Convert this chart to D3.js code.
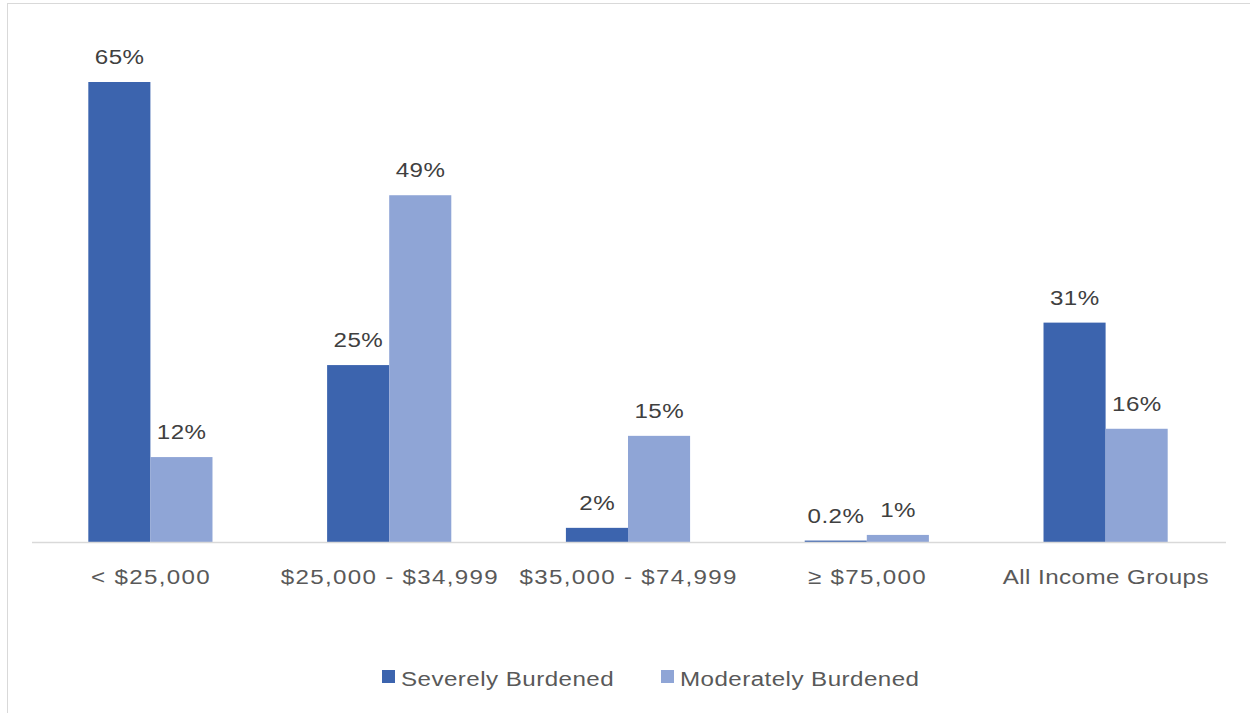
<!DOCTYPE html>
<html>
<head>
<meta charset="utf-8">
<script src="https://cdn.jsdelivr.net/npm/d3@7"></script>
<style>
  html, body { margin: 0; padding: 0; background: #fff; }
  svg { display: block; }
  text { font-family: "Liberation Sans", Arial, sans-serif; }
</style>
</head>
<body>
<svg id="chart" width="1250" height="713"></svg>
<script>
// Housing cost burden by household income
const categories = ["< $25,000", "$25,000 - $34,999", "$35,000 - $74,999", "\u2265 $75,000", "All Income Groups"];
const seriesNames = ["Severely Burdened", "Moderately Burdened"];
const severe = [65, 25, 2, 0.2, 31];
const moderate = [12, 49, 15, 1, 16];
const valueLabels = [
  ["65%", "25%", "2%", "0.2%", "31%"],
  ["12%", "49%", "15%", "1%", "16%"]
];
const colors = ["#3C64AE", "#8FA5D6"];

const rows = categories.map((c, i) => ({
  category: c,
  values: [severe[i], moderate[i]],
  labels: [valueLabels[0][i], valueLabels[1][i]]
}));

const svg = d3.select("#chart");

// chart frame
svg.append("rect")
  .attr("x", 7.5).attr("y", 3.5)
  .attr("width", 1260).attr("height", 720)
  .attr("fill", "#fff")
  .attr("stroke", "#d9d9d9").attr("stroke-width", 1);

const plot = { left: 32, right: 1226, top: 82, bottom: 542 };
const FONT = 21;
const STRETCH = 1.15;   // wide grotesque look

const x0 = d3.scaleBand()
  .domain(categories)
  .range([plot.left - 1, plot.right - 1])
  .paddingInner(0.48)
  .paddingOuter(0.24);

const x1 = d3.scaleBand()
  .domain([0, 1])
  .range([0, x0.bandwidth()]);

const y = d3.scaleLinear()
  .domain([0, 65])
  .range([plot.bottom, plot.top]);

// bars
const groups = svg.append("g").selectAll("g")
  .data(rows)
  .join("g")
  .attr("transform", d => `translate(${x0(d.category)},0)`);

groups.selectAll("rect")
  .data(d => d.values.map((v, k) => ({ v, k })))
  .join("rect")
  .attr("x", d => x1(d.k))
  .attr("y", d => y(d.v))
  .attr("width", x1.bandwidth())
  .attr("height", d => y(0) - y(d.v))
  .attr("fill", d => colors[d.k]);

// value labels
groups.selectAll("text")
  .data(d => d.values.map((v, k) => ({ v, k, label: d.labels[k] })))
  .join("text")
  .attr("transform", d => `translate(${x1(d.k) + x1.bandwidth() / 2},${y(d.v) - 18}) scale(${STRETCH},1)`)
  .attr("text-anchor", "middle")
  .attr("font-size", FONT)
  .attr("letter-spacing", 0.4)
  .attr("dx", 0.2)
  .attr("fill", "#404040")
  .text(d => d.label);

// category axis
const xAxis = svg.append("g")
  .attr("transform", `translate(0,${plot.bottom})`)
  .call(d3.axisBottom(x0).tickSize(0).tickPadding(0));
xAxis.select(".domain")
  .attr("d", `M${plot.left},0.5H${plot.right}`)
  .attr("stroke", "#d9d9d9").attr("stroke-width", 1.5);
xAxis.selectAll(".tick text")
  .attr("y", null)
  .attr("dy", null)
  .attr("transform", `translate(0,42) scale(${STRETCH},1)`)
  .attr("font-size", FONT)
  .attr("font-family", "Liberation Sans, Arial, sans-serif")
  .attr("fill", "#595959")
  .each(function(d) {
    const ls = /\d/.test(d) ? 1.15 : 0.4;
    d3.select(this).attr("letter-spacing", ls).attr("dx", ls / 2);
  });

// legend
const legendItems = [
  { name: seriesNames[0], color: colors[0], x: 382 },
  { name: seriesNames[1], color: colors[1], x: 661 }
];
const legend = svg.append("g").selectAll("g")
  .data(legendItems)
  .join("g")
  .attr("transform", d => `translate(${d.x},670)`);
legend.append("rect")
  .attr("width", 13).attr("height", 13)
  .attr("fill", d => d.color);
legend.append("text")
  .attr("transform", `translate(19,16) scale(${STRETCH},1)`)
  .attr("font-size", FONT)
  .attr("letter-spacing", 0.4)
  .attr("fill", "#595959")
  .text(d => d.name);
</script>
</body>
</html>
